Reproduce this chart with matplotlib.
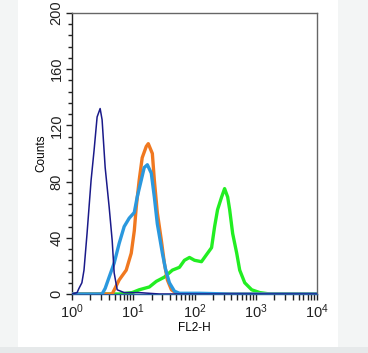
import numpy as np
import matplotlib
matplotlib.use("Agg")
import matplotlib.pyplot as plt
from matplotlib.patches import Rectangle
from matplotlib.ticker import MultipleLocator, LogLocator

# DATA (FL2-H channel value, counts)
navy_x = [1.0, 1.21, 1.30, 1.45, 1.57, 1.76, 2.05, 2.29, 2.57, 2.88, 3.10, 3.48, 4.04, 4.53, 4.88, 5.47, 7.11, 12.5, 26.7, 10000]
navy_y = [0, 1, 4, 8, 17, 43, 81, 102, 126, 132, 124, 90, 62, 38, 15, 3, 1, 1, 0, 0]

orange_x = [1.0, 4.04, 4.53, 5.89, 7.68, 9.27, 10.4, 11.2, 12.5, 14.0, 16.3, 17.6, 20.5, 22.1, 24.7, 28.8, 32.2, 36.1, 42.0, 52.6, 10000]
orange_y = [0, 0, 0, 10, 17, 29, 45, 62, 81, 97, 105, 107, 100, 81, 58, 38, 22, 10, 3, 0, 0]

blue_x = [1.0, 3.10, 3.48, 4.04, 4.88, 5.89, 7.11, 8.60, 10.4, 11.6, 13.5, 15.1, 17.0, 19.7, 22.1, 24.7, 29.9, 33.5, 38.9, 47.0, 56.8, 121, 375, 10000]
blue_y = [0, 0, 4, 12, 22, 36, 48, 54, 58, 69, 81, 90, 92, 86, 69, 50, 29, 18, 8, 2, 0.5, 0.5, 0, 0]

green_x = [1.0, 5.89, 9.6, 12.5, 18.3, 23.8, 32.2, 43.6, 56.8, 68.5, 82.8, 100, 130, 157, 190, 213, 238, 277, 310, 348, 375, 420, 489, 547, 661, 859, 1164, 1698, 10000]
green_y = [0, 0, 1, 3, 5, 9, 12, 17, 19, 24, 26, 24, 23, 28, 33, 48, 60, 69, 75, 69, 60, 43, 29, 17, 8, 3, 1, 0, 0]

y_ticks = [0, 40, 80, 120, 160, 200]

plt.rcParams['font.family'] = ['Liberation Sans', 'DejaVu Sans']

fig = plt.figure(figsize=(3.68, 3.53), dpi=100)
fig.patch.set_facecolor('#f3f5f5')
# white panel and bottom strip behind the plot
fig.add_artist(Rectangle((18 / 368, 6 / 353), 320 / 368, 347 / 353,
                         transform=fig.transFigure, facecolor='white', edgecolor='none', zorder=-10))
fig.add_artist(Rectangle((0, 0), 1, 6 / 353,
                         transform=fig.transFigure, facecolor='#e6e9ea', edgecolor='none', zorder=-10))

ax = fig.add_axes([72 / 368, 59 / 353, 245 / 368, 281 / 353])
ax.set_facecolor('white')

ax.plot(green_x, green_y, color='#22ee22', lw=2.4, zorder=2)
ax.plot(orange_x, orange_y, color='#f07820', lw=2.4, zorder=3)
ax.plot(blue_x, blue_y, color='#2a98de', lw=2.4, zorder=4)
ax.plot(navy_x, navy_y, color='#1a1a8a', lw=1.1, zorder=5)

ax.set_xscale('log')
ax.set_xlim(1, 10000)
ax.set_ylim(0, 200)
ax.set_yticks(y_ticks)
ax.yaxis.set_minor_locator(MultipleLocator(8))
ax.xaxis.set_major_locator(LogLocator(base=10))
ax.xaxis.set_minor_locator(LogLocator(base=10, subs=np.arange(2, 10)))

for s in ['top', 'right']:
    ax.spines[s].set_color('#666666')
ax.spines['left'].set_color('#222222')
ax.spines['bottom'].set_color('#2a5f9e')
for s in ax.spines.values():
    s.set_linewidth(1.0)

ax.tick_params(axis='both', which='major', direction='out', length=4, width=1, labelsize=10.5, colors='#222222', pad=2)
ax.tick_params(axis='both', which='minor', direction='out', length=3, width=1, colors='#222222')
ax.tick_params(axis='x', which='minor', length=4)
for lab in ax.get_yticklabels():
    lab.set_rotation(90)
    lab.set_va('center')

ax.set_xlabel('FL2-H', fontsize=8.5, labelpad=1)
ax.set_ylabel('Counts', fontsize=8.5, labelpad=2)

fig.savefig('out.png', dpi=100, facecolor=fig.get_facecolor())
